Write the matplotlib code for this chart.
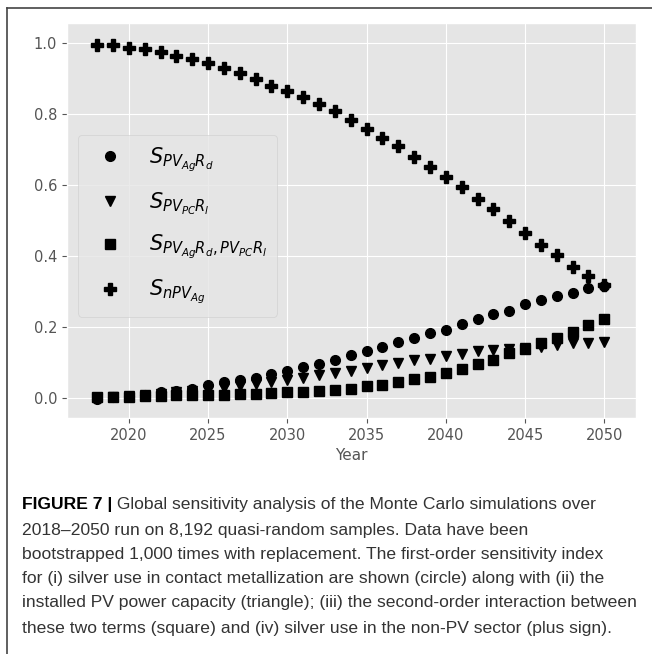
import matplotlib
matplotlib.use("Agg")
import matplotlib.pyplot as plt
from matplotlib.lines import Line2D

# values
years = list(range(2018, 2051))
s_ag = [-0.003, 0.002, 0.005, 0.010, 0.016, 0.021, 0.026, 0.037, 0.044, 0.051,
        0.057, 0.067, 0.077, 0.087, 0.097, 0.107, 0.120, 0.132, 0.145, 0.157,
        0.168, 0.182, 0.192, 0.210, 0.222, 0.236, 0.245, 0.264, 0.276, 0.288,
        0.295, 0.311, 0.315]
s_pc = [-0.002, 0.002, 0.005, 0.008, 0.012, 0.016, 0.020, 0.024, 0.029, 0.034,
        0.039, 0.045, 0.051, 0.058, 0.065, 0.071, 0.077, 0.084, 0.093, 0.098,
        0.107, 0.110, 0.118, 0.123, 0.132, 0.135, 0.137, 0.140, 0.145, 0.149,
        0.154, 0.156, 0.159]
s_inter = [0.004, 0.004, 0.004, 0.007, 0.007, 0.009, 0.009, 0.008, 0.009, 0.011,
           0.011, 0.013, 0.016, 0.018, 0.020, 0.023, 0.025, 0.034, 0.037, 0.046,
           0.053, 0.060, 0.070, 0.082, 0.095, 0.107, 0.126, 0.138, 0.154, 0.170,
           0.186, 0.207, 0.222]
s_npv = [0.995, 0.995, 0.987, 0.982, 0.975, 0.964, 0.955, 0.943, 0.929, 0.914,
         0.897, 0.880, 0.865, 0.847, 0.827, 0.807, 0.782, 0.758, 0.733, 0.709,
         0.680, 0.652, 0.622, 0.594, 0.560, 0.531, 0.499, 0.466, 0.432, 0.403,
         0.370, 0.344, 0.318]

labels = [r"$S_{PV_{Ag}R_d}$", r"$S_{PV_{PC}R_l}$",
          r"$S_{PV_{Ag}R_d,PV_{PC}R_l}$", r"$S_{nPV_{Ag}}$"]

caption = [
    "Global sensitivity analysis of the Monte Carlo simulations over",
    "2018\u20132050 run on 8,192 quasi-random samples. Data have been",
    "bootstrapped 1,000 times with replacement. The first-order sensitivity index",
    "for (i) silver use in contact metallization are shown (circle) along with (ii) the",
    "installed PV power capacity (triangle); (iii) the second-order interaction between",
    "these two terms (square) and (iv) silver use in the non-PV sector (plus sign).",
]

plt.style.use("ggplot")
W, H = 652, 654
fig = plt.figure(figsize=(W / 100, H / 100), dpi=100)
ax = fig.add_axes([67 / W, 1 - 418 / H, (636 - 67) / W, (418 - 23) / H])

ax.plot(years, s_ag, "o", color="black", ms=7, label=labels[0])
ax.plot(years, s_pc, "v", color="black", ms=7, label=labels[1])
ax.plot(years, s_inter, "s", color="black", ms=7, label=labels[2])
ax.plot(years, s_npv, "P", color="black", ms=8, label=labels[3])

ax.set_xlim(2016.1, 2052.0)
ax.set_ylim(-0.056, 1.056)
ax.set_xticks(range(2020, 2051, 5))
ax.set_yticks([0.0, 0.2, 0.4, 0.6, 0.8, 1.0])
ax.tick_params(labelsize=10.5, colors="#555555")
ax.set_xlabel("Year", fontsize=11, color="#555555")

ax.legend(loc="upper left", bbox_to_anchor=(0.019, 0.716), borderaxespad=0,
          fontsize=15, labelspacing=0.8, handletextpad=0.8, borderpad=0.5,
          handlelength=2.1)

# frame lines around the figure panel
fig.add_artist(Line2D([7 / W, 1], [1 - 8 / H, 1 - 8 / H], color="#444444", lw=1.2))
fig.add_artist(Line2D([7 / W, 7 / W], [1 - 8 / H, 0], color="#444444", lw=1.2))

# caption
fam = ["Liberation Sans"]
fs = 12.6
x0 = 22 / W
ys = [505, 530, 554, 579, 603, 628]
bold = fig.text(x0, 1 - ys[0] / H, "FIGURE 7 |", fontsize=fs, fontweight="bold",
                family=fam, color="black", va="center")
ax.annotate(" " + caption[0], xy=(1, 0.5), xycoords=bold, va="center",
            fontsize=fs, family=fam, color="#333333", annotation_clip=False)
for y, line in zip(ys[1:], caption[1:]):
    fig.text(x0, 1 - y / H, line, fontsize=fs, family=fam, color="#333333",
             va="center")

fig.savefig("out.png", dpi=100)
